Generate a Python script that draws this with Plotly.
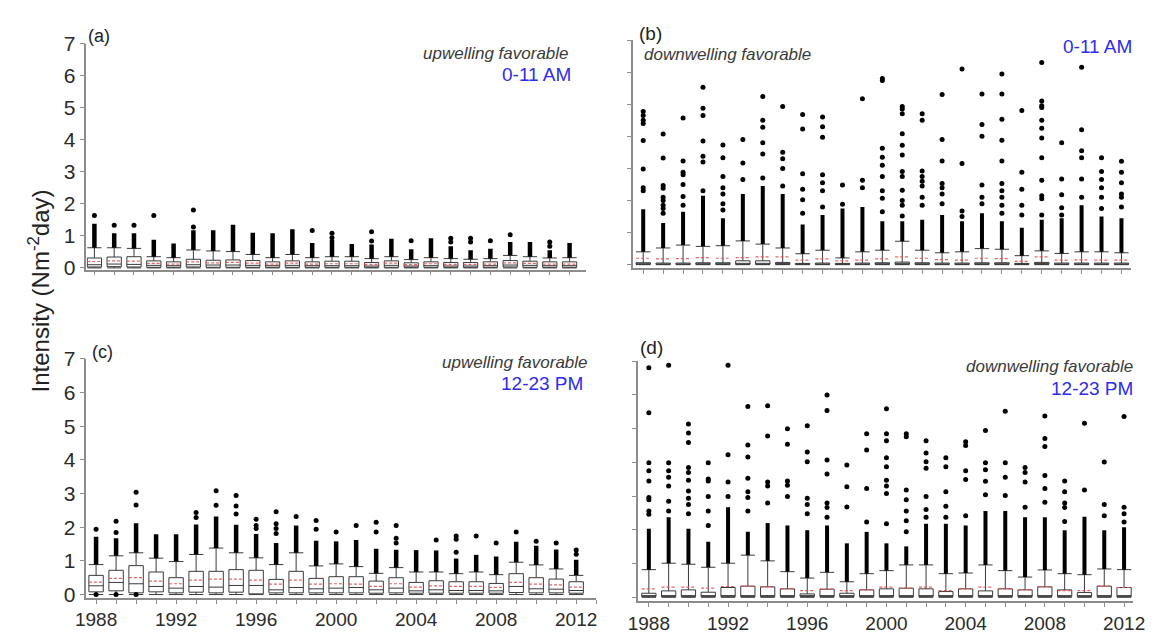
import plotly.graph_objects as go

years = list(range(1988, 2013))
x_label_years = [1988, 1992, 1996, 2000, 2004, 2008, 2012]
y_ticks = [0, 1, 2, 3, 4, 5, 6, 7]

# ---------------- (a) upwelling favorable, 0-11 AM ----------------
a_q1 = [0.03, 0.04, 0.03, 0.02, 0.02, 0.03, 0.02, 0.02, 0.02, 0.02, 0.02, 0.02, 0.02,
        0.02, 0.02, 0.02, 0.02, 0.02, 0.02, 0.02, 0.02, 0.03, 0.02, 0.02, 0.02]
a_med = [0.10, 0.12, 0.11, 0.08, 0.07, 0.10, 0.09, 0.09, 0.08, 0.07, 0.08, 0.07, 0.07,
         0.07, 0.06, 0.08, 0.06, 0.07, 0.06, 0.06, 0.07, 0.09, 0.08, 0.07, 0.07]
a_q3 = [0.31, 0.34, 0.35, 0.22, 0.19, 0.27, 0.24, 0.25, 0.23, 0.19, 0.22, 0.19, 0.21,
        0.21, 0.17, 0.22, 0.16, 0.19, 0.17, 0.17, 0.19, 0.23, 0.21, 0.19, 0.19]
a_mean = [0.20, 0.22, 0.21, 0.14, 0.12, 0.19, 0.16, 0.17, 0.15, 0.12, 0.15, 0.12, 0.13,
          0.13, 0.11, 0.15, 0.10, 0.13, 0.11, 0.11, 0.12, 0.16, 0.14, 0.12, 0.12]
a_cap = [0.63, 0.63, 0.61, 0.35, 0.32, 0.56, 0.53, 0.51, 0.42, 0.32, 0.42, 0.32, 0.35,
         0.35, 0.29, 0.35, 0.26, 0.32, 0.29, 0.27, 0.29, 0.39, 0.35, 0.31, 0.32]
a_dense = [1.38, 1.08, 1.08, 0.88, 0.76, 1.18, 1.18, 1.35, 1.10, 1.08, 1.21, 0.78, 0.88,
           0.75, 0.73, 0.91, 0.58, 0.93, 0.68, 0.55, 0.60, 0.81, 0.81, 0.55, 0.78]
a_dots = [[1.64], [1.33], [1.33], [1.64], [], [1.81, 1.28], [], [], [], [], [], [1.17],
          [1.08, 0.94], [], [1.13, 0.84], [], [0.85], [], [0.93, 0.81], [0.93, 0.81],
          [0.85], [1.04], [], [0.81, 0.68], []]

# ---------------- (b) downwelling favorable, 0-11 AM ----------------
b_q1 = [0.01] * 25
b_med = [0.02, 0.02, 0.02, 0.02, 0.02, 0.04, 0.04, 0.02, 0.02, 0.02, 0.02, 0.02, 0.02,
         0.03, 0.02, 0.02, 0.02, 0.02, 0.02, 0.02, 0.02, 0.02, 0.02, 0.02, 0.02]
b_q3 = [0.06, 0.05, 0.05, 0.06, 0.06, 0.12, 0.12, 0.07, 0.04, 0.05, 0.04, 0.05, 0.06,
        0.08, 0.06, 0.05, 0.05, 0.06, 0.06, 0.04, 0.07, 0.05, 0.05, 0.05, 0.05]
b_mean = [0.20, 0.18, 0.19, 0.22, 0.20, 0.22, 0.24, 0.24, 0.14, 0.18, 0.12, 0.14, 0.18,
          0.24, 0.20, 0.16, 0.14, 0.20, 0.19, 0.10, 0.24, 0.14, 0.15, 0.14, 0.14]
b_cap = [0.40, 0.52, 0.61, 0.57, 0.59, 0.74, 0.64, 0.52, 0.34, 0.45, 0.21, 0.40, 0.45,
         0.73, 0.45, 0.37, 0.40, 0.50, 0.48, 0.28, 0.43, 0.35, 0.40, 0.40, 0.37]
b_dense = [1.73, 1.30, 1.65, 2.15, 1.45, 2.20, 2.45, 2.20, 1.25, 1.55, 1.75, 1.80, 1.35,
           1.35, 1.40, 1.55, 1.35, 1.60, 1.35, 1.15, 1.40, 1.45, 1.85, 1.50, 1.45]
b_dots = [[4.77, 4.65, 4.50, 4.40, 3.87, 2.98, 2.40, 2.30],
          [4.07, 3.32, 2.47, 2.38, 2.10, 2.00, 1.85, 1.75, 1.60],
          [4.57, 3.23, 2.88, 2.80, 2.50, 2.12, 1.85],
          [5.53, 4.87, 4.65, 3.85, 3.38, 3.20, 2.30],
          [3.73, 3.33, 2.75, 2.40, 2.20, 1.90, 1.70],
          [3.90, 3.17, 2.65],
          [5.24, 4.50, 4.28, 3.80, 3.45, 2.70],
          [4.93, 3.50, 3.30, 3.00, 2.45],
          [4.68, 4.23, 2.83, 2.35, 2.02, 1.60],
          [4.60, 4.30, 3.97, 2.80, 2.55, 2.30, 1.80],
          [2.48, 1.88],
          [5.17, 2.63, 2.40],
          [5.80, 5.74, 3.63, 3.35, 3.10, 2.75, 2.30, 2.07, 1.65],
          [4.93, 4.85, 4.70, 4.08, 3.72, 3.42, 2.90, 2.75, 2.32, 2.00, 1.85, 1.52],
          [4.70, 4.50, 2.92, 2.75, 2.60, 2.45, 2.10, 1.85],
          [5.30, 3.90, 3.23, 2.53, 2.40, 2.20, 1.90],
          [6.10, 3.15, 1.67, 1.50],
          [5.32, 4.37, 4.00, 2.48, 2.10, 1.90],
          [5.94, 5.32, 4.53, 3.88, 3.23, 2.53, 2.30, 2.10, 1.85, 1.60],
          [4.80, 2.88, 2.35, 1.85, 1.55],
          [6.30, 5.10, 4.95, 4.90, 4.50, 4.25, 3.95, 3.33, 2.63, 2.15, 2.05, 1.55],
          [3.80, 2.67, 2.18, 1.77, 1.55],
          [6.15, 4.20, 3.55, 3.33, 2.67, 2.10],
          [3.33, 2.90, 2.65, 2.40, 2.10, 1.75],
          [3.22, 2.88, 2.55, 2.20, 2.10, 1.80]]

# ---------------- (c) upwelling favorable, 12-23 PM ----------------
c_q1 = [0.08, 0.11, 0.05, 0.08, 0.05, 0.07, 0.05, 0.07, 0.02, 0.05, 0.05, 0.05, 0.05,
        0.05, 0.04, 0.05, 0.04, 0.04, 0.04, 0.04, 0.04, 0.06, 0.05, 0.05, 0.04]
c_med = [0.26, 0.36, 0.32, 0.24, 0.19, 0.24, 0.22, 0.27, 0.27, 0.14, 0.21, 0.17, 0.19,
         0.21, 0.14, 0.19, 0.11, 0.14, 0.12, 0.12, 0.11, 0.24, 0.17, 0.16, 0.12]
c_q3 = [0.57, 0.72, 0.86, 0.67, 0.50, 0.69, 0.69, 0.74, 0.72, 0.45, 0.69, 0.48, 0.53,
        0.53, 0.40, 0.50, 0.36, 0.41, 0.38, 0.38, 0.33, 0.62, 0.50, 0.46, 0.38]
c_mean = [0.37, 0.48, 0.50, 0.40, 0.32, 0.43, 0.46, 0.46, 0.43, 0.31, 0.43, 0.31, 0.32,
          0.31, 0.24, 0.32, 0.22, 0.26, 0.24, 0.24, 0.21, 0.36, 0.31, 0.29, 0.22]
c_cap = [0.89, 1.15, 1.24, 1.08, 0.98, 1.19, 1.38, 1.24, 1.09, 0.89, 1.24, 0.85, 0.91,
         0.83, 0.63, 0.80, 0.67, 0.67, 0.62, 0.67, 0.59, 0.96, 0.88, 0.76, 0.57]
c_dense = [1.72, 1.67, 2.12, 1.79, 1.79, 2.08, 2.32, 2.07, 1.80, 1.53, 2.05, 1.60, 1.58,
           1.62, 1.36, 1.33, 1.32, 1.31, 1.07, 1.18, 1.13, 1.57, 1.45, 1.34, 1.03]
c_dots = [[1.94, 0.0], [2.18, 1.84, 0.0], [3.04, 2.66, 0.0], [], [], [2.44, 2.29],
          [3.08, 2.65], [2.94, 2.63, 2.39], [2.24, 2.05, 1.96], [2.46, 2.10, 1.96, 1.81],
          [2.32], [2.20, 1.94], [1.86], [2.05], [2.15, 1.86], [2.05, 1.67, 1.53], [],
          [1.62], [1.74, 1.64, 1.26], [1.74], [1.53], [1.86], [1.58], [1.53], [1.32, 1.20]]

# ---------------- (d) downwelling favorable, 12-23 PM ----------------
d_q1 = [0.02] * 25
d_med = [0.04] * 25
d_q3 = [0.12, 0.19, 0.22, 0.15, 0.29, 0.33, 0.31, 0.25, 0.10, 0.24, 0.12, 0.22, 0.25,
        0.27, 0.25, 0.17, 0.25, 0.19, 0.25, 0.22, 0.31, 0.22, 0.14, 0.33, 0.29]
d_mean = [0.25, 0.30, 0.30, 0.27, 0.32, 0.33, 0.31, 0.25, 0.20, 0.24, 0.20, 0.22, 0.30,
          0.27, 0.30, 0.20, 0.25, 0.30, 0.25, 0.22, 0.31, 0.20, 0.20, 0.33, 0.29]
d_cap = [0.82, 1.01, 0.98, 0.89, 1.01, 1.25, 1.08, 0.76, 0.57, 0.74, 0.46, 0.70, 0.79,
         0.96, 0.96, 0.70, 0.72, 0.96, 0.79, 0.60, 0.81, 0.70, 0.67, 0.84, 0.82]
d_dense = [2.03, 2.37, 2.03, 1.65, 2.67, 1.94, 2.20, 2.13, 1.99, 2.13, 1.60, 1.94, 1.60,
           1.51, 2.18, 2.18, 2.13, 2.56, 2.56, 2.37, 2.37, 1.99, 2.39, 1.99, 2.08]
d_dots = [[6.81, 5.47, 3.99, 3.75, 3.45, 2.96, 2.89, 2.56, 2.46],
          [6.88, 3.99, 3.75, 3.56, 3.30, 2.85, 2.56],
          [5.14, 4.87, 4.59, 3.85, 3.70, 3.47, 3.15, 2.94, 2.75, 2.48],
          [3.99, 3.51, 3.45, 2.99, 2.56, 2.13],
          [6.88, 4.23, 3.42, 2.99],
          [5.66, 4.52, 4.16, 3.53, 3.13, 2.96, 2.56],
          [5.68, 4.78, 3.42, 3.30, 2.80],
          [5.00, 4.54, 3.45, 3.32, 2.99],
          [5.09, 4.31, 4.02, 2.94, 2.75, 2.48],
          [6.00, 5.54, 4.07, 3.66, 2.80, 2.66, 2.37],
          [3.92, 3.28, 2.68],
          [4.85, 4.37, 3.23, 2.23],
          [5.59, 4.85, 4.64, 4.14, 3.87, 3.47, 3.30, 3.08, 2.18],
          [4.85, 4.76, 3.18, 2.89, 2.56, 2.27, 1.94],
          [4.64, 4.28, 4.02, 3.83, 2.99, 2.60, 2.37],
          [4.14, 3.87, 3.13, 2.70, 2.37],
          [4.61, 4.50, 3.75, 3.49, 2.42],
          [4.95, 3.99, 3.78, 3.44, 3.04],
          [5.52, 3.99, 3.56, 3.02],
          [3.85, 3.70, 3.42, 2.67],
          [5.38, 4.71, 4.47, 3.61, 3.23, 2.82],
          [3.45, 3.13, 2.80, 2.66, 2.25],
          [5.16, 3.18],
          [4.01, 2.75, 2.42],
          [5.36, 2.67, 2.48, 2.23]]

# ---------------- layout helpers ----------------
W, H = 1164, 639
FONT = "Liberation Sans, Arial, sans-serif"
AXIS_GRAY = "#8c8c8c"
BLUE = "#2c2cf0"
BOX_W = 0.72


def px(x):
    return x / W


def py(y):
    return 1 - y / H


panels = [
    dict(n="", q1=a_q1, med=a_med, q3=a_q3, mean=a_mean, cap=a_cap, dense=a_dense, dots=a_dots,
         xdom=[px(77), px(587)], xr=[1987.6, 2012.85], ydom=[py(266.7), py(33)], yr=[-0.05, 7],
         ylab=True, xlab=False, dw=4.5),
    dict(n="2", q1=b_q1, med=b_med, q3=b_q3, mean=b_mean, cap=b_cap, dense=b_dense, dots=b_dots,
         xdom=[px(635), px(1143)], xr=[1987.51, 2012.5], ydom=[py(265), py(29)], yr=[-0.1, 7],
         ylab=False, xlab=False, dw=4),
    dict(n="3", q1=c_q1, med=c_med, q3=c_q3, mean=c_mean, cap=c_cap, dense=c_dense, dots=c_dots,
         xdom=[px(77), px(597)], xr=[1987.52, 2013.0], ydom=[py(606.8), py(359.3)], yr=[-0.1, 7],
         ylab=True, xlab=True, dw=4.5),
    dict(n="4", q1=d_q1, med=d_med, q3=d_q3, mean=d_mean, cap=d_cap, dense=d_dense, dots=d_dots,
         xdom=[px(640), px(1145)], xr=[1987.47, 2012.47], ydom=[py(610), py(361.7)], yr=[-0.11, 7],
         ylab=False, xlab=True, dw=4),
]

fig = go.Figure()
layout_axes = {}

for p in panels:
    xa, ya = "x" + p["n"], "y" + p["n"]
    # boxes
    fig.add_trace(go.Box(
        x=years, q1=p["q1"], median=p["med"], q3=p["q3"],
        lowerfence=[0.0] * len(years), upperfence=p["cap"],
        width=BOX_W, whiskerwidth=1, boxpoints=False,
        fillcolor="rgba(255,255,255,0)",
        line=dict(color="#3a3a3a", width=1),
        xaxis=xa, yaxis=ya, hoverinfo="skip", showlegend=False))
    # dense runs of outliers
    sx, sy = [], []
    for yr, c, d in zip(years, p["cap"], p["dense"]):
        sx += [yr, yr, None]
        sy += [c, d, None]
    fig.add_trace(go.Scatter(x=sx, y=sy, mode="lines",
                             line=dict(color="black", width=p["dw"]),
                             xaxis=xa, yaxis=ya, hoverinfo="skip", showlegend=False))
    # individual outliers
    ox, oy = [], []
    for yr, lst in zip(years, p["dots"]):
        for v in lst:
            ox.append(yr)
            oy.append(v)
    fig.add_trace(go.Scatter(x=ox, y=oy, mode="markers",
                             marker=dict(color="black", size=5, line=dict(width=0)),
                             xaxis=xa, yaxis=ya, hoverinfo="skip", showlegend=False))
    # mean lines (red dashed)
    mx, my = [], []
    for yr, m in zip(years, p["mean"]):
        mx += [yr - BOX_W / 2, yr + BOX_W / 2, None]
        my += [m, m, None]
    fig.add_trace(go.Scatter(x=mx, y=my, mode="lines",
                             line=dict(color="rgba(235,80,80,0.9)", width=1.2, dash="3px,2px"),
                             xaxis=xa, yaxis=ya, hoverinfo="skip", showlegend=False))

    xkey = "xaxis" + p["n"]
    ykey = "yaxis" + p["n"]
    layout_axes[xkey] = dict(
        domain=p["xdom"], range=p["xr"], anchor=ya,
        showline=True, linecolor=AXIS_GRAY, linewidth=1.5,
        ticks="outside", ticklen=4, tickwidth=1, tickcolor=AXIS_GRAY,
        tickmode="array", tickvals=x_label_years,
        showticklabels=p["xlab"],
        minor=dict(tickmode="linear", tick0=1988, dtick=1, ticks="outside",
                   ticklen=4, tickwidth=1, tickcolor=AXIS_GRAY, showgrid=False),
        tickfont=dict(family=FONT, size=19, color="#2b2b2b"),
        showgrid=False, zeroline=False)
    layout_axes[ykey] = dict(
        domain=p["ydom"], range=p["yr"], anchor=xa,
        showline=True, linecolor=AXIS_GRAY, linewidth=1.5,
        ticks="outside", ticklen=5, tickwidth=1, tickcolor=AXIS_GRAY,
        tickmode="array", tickvals=y_ticks,
        showticklabels=p["ylab"],
        tickfont=dict(family=FONT, size=21, color="#2b2b2b"),
        showgrid=False, zeroline=False)

annotations = []


def note(text, x, y, xanchor, size, color="#222", italic=False, textangle=0):
    annotations.append(dict(
        text=text, x=px(x), y=py(y), xref="paper", yref="paper",
        xanchor=xanchor, yanchor="middle", showarrow=False, textangle=textangle,
        font=dict(family=FONT, size=size, color=color,
                  style="italic" if italic else "normal")))


note("(a)", 77, 25, "left", 18)
note("(b)", 639, 22, "left", 19)
note("(c)", 81, 352, "left", 18)
note("(d)", 640, 347, "left", 19)

note("upwelling favorable", 571, 43, "right", 17, "#3a3a3a", True)
note("0-11 AM", 573, 65, "right", 19, BLUE)
note("downwelling favorable", 644, 44, "left", 17, "#3a3a3a", True)
note("0-11 AM", 1146, 36, "right", 19, BLUE)
note("upwelling favorable", 591, 363, "right", 17, "#3a3a3a", True)
note("12-23 PM", 586, 385, "right", 19, BLUE)
note("downwelling favorable", 1147, 367, "right", 17, "#3a3a3a", True)
note("12-23 PM", 1147, 390, "right", 19, BLUE)

note("Intensity (Nm<sup>-2</sup>day)", 29, 289, "center", 24, "#222", textangle=-90)

fig.update_layout(
    width=W, height=H,
    margin=dict(l=0, r=0, t=0, b=0),
    paper_bgcolor="white", plot_bgcolor="white",
    showlegend=False,
    font=dict(family=FONT),
    annotations=annotations,
    **layout_axes)

fig.write_html("out.html")
